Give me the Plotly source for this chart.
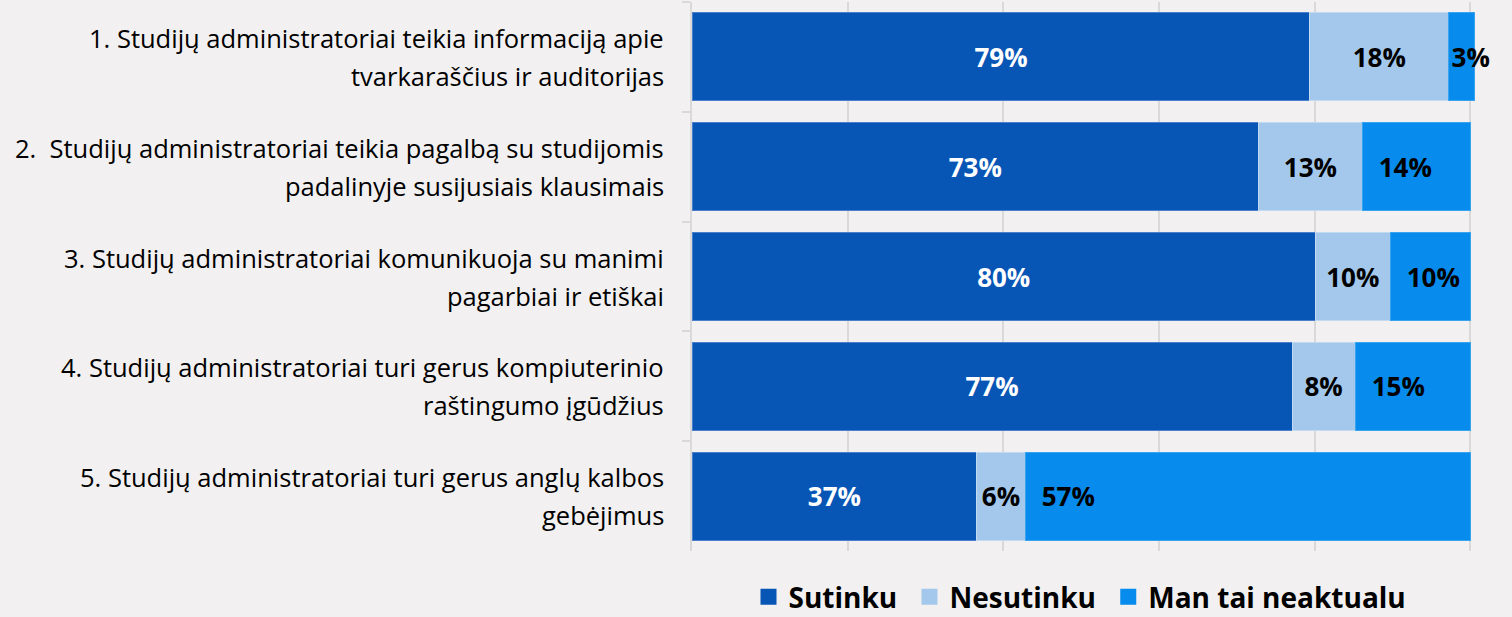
import plotly.graph_objects as go

categories = [
    "1. Studijų administratoriai teikia informaciją apie<br>tvarkaraščius ir auditorijas",
    "2.  Studijų administratoriai teikia pagalbą su studijomis<br>padalinyje susijusiais klausimais",
    "3. Studijų administratoriai komunikuoja su manimi<br>pagarbiai ir etiškai",
    "4. Studijų administratoriai turi gerus kompiuterinio<br>raštingumo įgūdžius",
    "5. Studijų administratoriai turi gerus anglų kalbos<br>gebėjimus",
]
sutinku = [79.4, 72.8, 80.1, 77.1, 36.6]
nesutinku = [17.8, 13.3, 9.6, 8.1, 6.2]
neaktualu = [3.3, 13.9, 10.3, 14.8, 57.2]
series_names = ["Sutinku", "Nesutinku", "Man tai neaktualu"]
x_ticks = [0, 20, 40, 60, 80, 100]

colors = ["#0755b5", "#a3c8eb", "#078bed"]
line_colors = ["#4a7fcc", "#c2dbf3", "#3aa3f0"]
text_colors = ["white", "black", "black"]
anchors = ["middle", "middle", "start"]

NB = "\u00a0"
fig = go.Figure()
for name, vals, c, lc, tc, anc in zip(series_names, [sutinku, nesutinku, neaktualu],
                                      colors, line_colors, text_colors, anchors):
    if anc == "start":
        tmpl = [("%{x:.0f}%" if v < 5 else NB * 2 + "%{x:.0f}%") for v in vals]
    else:
        tmpl = "%{x:.0f}%"
    fig.add_trace(go.Bar(
        y=categories, x=vals, name=name, orientation="h", showlegend=False,
        marker=dict(color=c, line=dict(color=lc, width=1)),
        texttemplate=tmpl, textposition="inside", insidetextanchor=anc,
        textangle=0, constraintext="none",
        textfont=dict(family="Open Sans", size=26, color=tc, weight="bold"),
        cliponaxis=False,
    ))

# legend entries with larger square swatches
for name, c in zip(series_names, colors):
    fig.add_trace(go.Scatter(
        x=[None], y=[None], mode="markers", name=name + NB,
        marker=dict(symbol="square", size=18, color=c),
    ))

# category labels as two-line annotations (for wider line spacing)
for cat in categories:
    l1, l2 = cat.split("<br>")
    for txt, shift in ((l1, 19), (l2, -19)):
        fig.add_annotation(
            x=0, xref="paper", y=cat, yref="y", text=txt, showarrow=False,
            xanchor="right", yanchor="middle", xshift=-26, yshift=shift,
            font=dict(family="Open Sans", size=25.5, color="black"),
        )

fig.update_layout(
    barmode="stack", bargap=0.2,
    width=1512, height=617,
    paper_bgcolor="#f2f0f0", plot_bgcolor="#f2f0f0",
    margin=dict(l=692, r=37, t=2, b=66),
    font=dict(family="Open Sans", color="black"),
    showlegend=True,
    legend=dict(orientation="h", x=0.5, xanchor="center", xref="paper",
                y=20 / 617, yanchor="middle", yref="container",
                font=dict(family="Open Sans", size=28, color="black", weight="bold"),
                traceorder="normal", itemsizing="trace", bgcolor="rgba(0,0,0,0)"),
    xaxis=dict(range=[0, 100.6], tickvals=x_ticks, showticklabels=False,
               showgrid=True, gridcolor="#d9d9d9", gridwidth=2, zeroline=False,
               showline=False, fixedrange=True),
    yaxis=dict(autorange="reversed", tickson="boundaries", ticks="outside", ticklen=8,
               tickcolor="#d9d9d9", tickwidth=2, showline=True, linecolor="#d9d9d9",
               linewidth=2, showgrid=False, showticklabels=False),
)

fig.write_html("out.html", config={"displayModeBar": False},
               post_script="document.body.style.margin='0';document.body.style.background='#f2f0f0';")
